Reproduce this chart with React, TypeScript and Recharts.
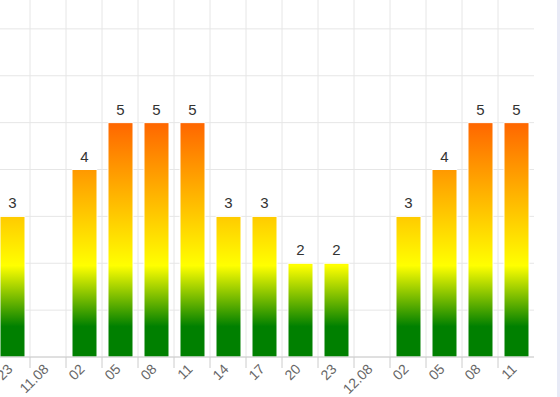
import { BarChart, Bar, XAxis, YAxis, CartesianGrid, LabelList } from 'recharts';

// 3-hour buckets, day markers take their own slot
const categories = ['10.08 23', '11.08', '11.08 02', '11.08 05', '11.08 08', '11.08 11', '11.08 14', '11.08 17', '11.08 20', '11.08 23', '12.08', '12.08 02', '12.08 05', '12.08 08', '12.08 11'];
const tickLabels = ['23', '11.08', '02', '05', '08', '11', '14', '17', '20', '23', '12.08', '02', '05', '08', '11'];
const values: (number | null)[] = [3, null, 4, 5, 5, 5, 3, 3, 2, 2, null, 3, 4, 5, 5];
const yTicks = [0, 1, 2, 3, 4, 5, 6, 7, 8];

const PLOT_W = 540;
const PLOT_H = 375;
const BOTTOM = 40;
const Y_MAX = 8;
const STEP = PLOT_W / categories.length;
const FONT = '"Liberation Sans", Arial, sans-serif';

const chartData = categories.map((key, i) => ({ key, value: values[i] }));

function XTick(props: any) {
  const { x, y, index } = props;
  const lx = x + 1.5;
  const ly = y + 13;
  return (
    <g>
      <line x1={x - STEP / 2} x2={x - STEP / 2} y1={y} y2={y + 11} stroke="#ccc" />
      <text
        x={lx}
        y={ly}
        textAnchor="end"
        fontSize={14}
        fontFamily={FONT}
        fill="#666"
        transform={`rotate(-45 ${lx} ${ly})`}
      >
        {tickLabels[index]}
      </text>
    </g>
  );
}

function App() {
  return (
    <div style={{ position: 'absolute', left: 0, top: 0, width: 560, height: 397, overflow: 'hidden', background: '#fff' }}>
      <div style={{ position: 'absolute', left: -6, top: -18 }}>
        <BarChart
          width={PLOT_W}
          height={PLOT_H + BOTTOM}
          data={chartData}
          margin={{ top: 0, right: 0, left: 0, bottom: 0 }}
        >
          <defs>
            <linearGradient
              id="barFill"
              gradientUnits="userSpaceOnUse"
              x1="0"
              x2="0"
              y1={PLOT_H}
              y2={PLOT_H - (5 / Y_MAX) * PLOT_H}
            >
              <stop offset="0" stopColor="#008000" />
              <stop offset="0.13" stopColor="#008000" />
              <stop offset="0.39" stopColor="#ffff00" />
              <stop offset="1" stopColor="#ff6600" />
            </linearGradient>
          </defs>
          <CartesianGrid
            stroke="#e6e6e6"
            verticalCoordinatesGenerator={({ offset }: any) =>
              categories.map((_, i) => offset.left + (i * offset.width) / categories.length)
            }
          />
          <XAxis
            dataKey="key"
            height={BOTTOM}
            interval={0}
            tick={<XTick />}
            tickLine={false}
            tickSize={0}
            tickMargin={0}
            axisLine={{ stroke: '#ccc' }}
          />
          <YAxis hide domain={[0, Y_MAX]} ticks={yTicks} />
          <Bar dataKey="value" fill="url(#barFill)" stroke="#fff" strokeWidth={1} barSize={25} isAnimationActive={false}>
            <LabelList dataKey="value" position="top" offset={8} fill="#333" fontSize={15} fontFamily={FONT} />
          </Bar>
        </BarChart>
      </div>
      <div style={{ position: 'absolute', left: 557, top: 0, width: 3, height: 397, background: '#e8eaf6' }} />
    </div>
  );
}

export default App;
